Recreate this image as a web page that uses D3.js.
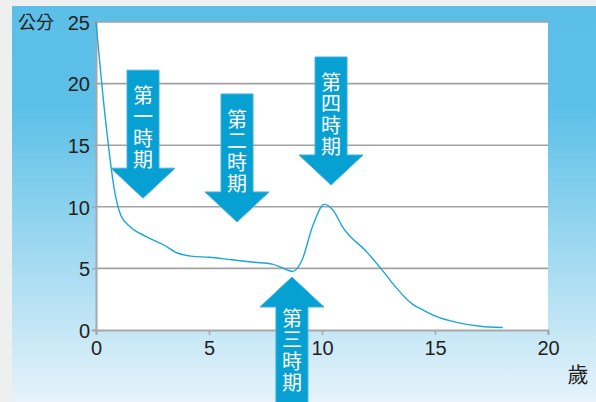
<!DOCTYPE html>
<html>
<head>
<meta charset="utf-8">
<script src="https://cdn.jsdelivr.net/npm/d3@7"></script>
<style>
  body { margin: 0; background: #eef0ef; }
  svg { display: block; }
  text { font-family: "Liberation Sans", Arial, sans-serif; fill: #231f20; }
  .cjk { font-family: "Noto Sans CJK TC", "Noto Sans CJK SC", sans-serif; }
</style>
</head>
<body>
<svg></svg>
<script>
// growth velocity (cm / year) by age
var ages   = [0, 0.4, 0.85, 1.1, 1.5, 2.2, 3, 3.6, 4.2, 5, 6, 7, 7.8, 8.3, 8.7, 9.1, 9.6, 10.1, 10.5, 10.9, 12, 12.6, 13.3, 14, 14.5, 15, 16, 17, 18];
var values = [25, 17.4, 11, 9.3, 8.4, 7.6, 6.9, 6.25, 6.0, 5.9, 5.7, 5.5, 5.35, 5.0, 4.75, 5.6, 8.5, 10.2, 9.7, 8.4, 6.3, 5.0, 3.4, 2.1, 1.6, 1.15, 0.6, 0.3, 0.2];

var xTicks = [0, 5, 10, 15, 20];
var yTicks = [0, 5, 10, 15, 20, 25];

// the four stage arrows: label, tip position (age, value), direction
var stageLabels = ['第一時期', '第二時期', '第三時期', '第四時期'];
var stageAges   = [2.08, 6.24, 8.67, 10.4];
var stageValues = [10.7, 8.77, 4.3, 11.77];
var stageDirs   = ['down', 'down', 'up', 'down'];

var width = 596, height = 402;
var svg = d3.select('svg').attr('width', width).attr('height', height);

var defs = svg.append('defs');
var grad = defs.append('linearGradient').attr('id', 'bg')
    .attr('x1', 0).attr('y1', 0).attr('x2', 0).attr('y2', 1);
grad.append('stop').attr('offset', '0').attr('stop-color', '#5bbfe7');
grad.append('stop').attr('offset', '0.26').attr('stop-color', '#5dc0e8');
grad.append('stop').attr('offset', '1').attr('stop-color', '#e6f3fa');

svg.append('rect').attr('x', 12).attr('y', 6).attr('width', width - 12).attr('height', height - 6)
    .attr('fill', 'url(#bg)');

var x = d3.scaleLinear().domain([0, 20]).range([96, 548]);
var y = d3.scaleLinear().domain([0, 25]).range([330, 22]);

svg.append('rect').attr('x', x(0)).attr('y', y(25))
    .attr('width', x(20) - x(0)).attr('height', y(0) - y(25))
    .attr('fill', '#fff');

// grid
svg.append('g').selectAll('line').data(yTicks.filter(function(d){ return d > 0; }))
    .join('line')
    .attr('x1', x(0)).attr('x2', x(20))
    .attr('y1', function(d){ return y(d); }).attr('y2', function(d){ return y(d); })
    .attr('stroke', '#a2a2a2').attr('stroke-width', 1.6);

// axes
var xAxis = svg.append('g').attr('transform', 'translate(0,' + y(0) + ')')
    .call(d3.axisBottom(x).tickValues(xTicks).tickSize(5).tickPadding(5));
var yAxis = svg.append('g').attr('transform', 'translate(' + x(0) + ',0)')
    .call(d3.axisLeft(y).tickValues(yTicks).tickSize(4).tickPadding(2));
[xAxis, yAxis].forEach(function(a){
    a.select('.domain').attr('stroke', '#a8a8a8').attr('stroke-width', 2);
    a.selectAll('.tick line').attr('stroke', '#a8a8a8').attr('stroke-width', 1.5);
    a.selectAll('.tick text').attr('fill', '#231f20')
        .style('font-family', '"Liberation Sans", Arial, sans-serif').style('font-size', '20px');
});
yAxis.selectAll('.tick text').attr('dy', '0.36em');
xAxis.selectAll('.tick text').attr('dy', '0.75em');

// curve
var line = d3.line()
    .x(function(d){ return x(d[0]); })
    .y(function(d){ return y(d[1]); })
    .curve(d3.curveMonotoneX);
svg.append('path')
    .datum(ages.map(function(a, i){ return [a, values[i]]; }))
    .attr('d', line)
    .attr('fill', 'none')
    .attr('stroke', '#1ba6d8')
    .attr('stroke-width', 1.4);

// arrows
var arrowLen = 128, headLen = 30, headHalf = 32, shaftHalf = 16;
stageLabels.forEach(function(label, i){
    var tx = x(stageAges[i]), ty = y(stageValues[i]);
    var s = stageDirs[i] == 'down' ? -1 : 1;
    var pts = [
        [0, 0],
        [headHalf, s * headLen],
        [shaftHalf, s * headLen],
        [shaftHalf, s * arrowLen],
        [-shaftHalf, s * arrowLen],
        [-shaftHalf, s * headLen],
        [-headHalf, s * headLen]
    ];
    var g = svg.append('g').attr('transform', 'translate(' + tx + ',' + ty + ')');
    g.append('path')
        .attr('d', 'M' + pts.join('L') + 'Z')
        .attr('fill', '#07a0d2')
        .attr('stroke', '#41b2dc')
        .attr('stroke-width', 1);
    // first character centre, then the column runs downward
    var start = s < 0 ? -arrowLen + 25 : headLen + 11;
    g.append('text').attr('class', 'cjk')
        .attr('x', 0).attr('y', start - 10)
        .style('writing-mode', 'vertical-rl')
        .style('letter-spacing', '1.5px')
        .style('font-size', '20px')
        .style('fill', '#fff')
        .text(label);
});

// unit labels
svg.append('text').attr('class', 'cjk').attr('x', 18).attr('y', 29)
    .style('font-size', '18px').text('公分');
svg.append('text').attr('class', 'cjk').attr('x', 578).attr('y', 382)
    .attr('text-anchor', 'middle').style('font-size', '21px').text('歲');
</script>
</body>
</html>
